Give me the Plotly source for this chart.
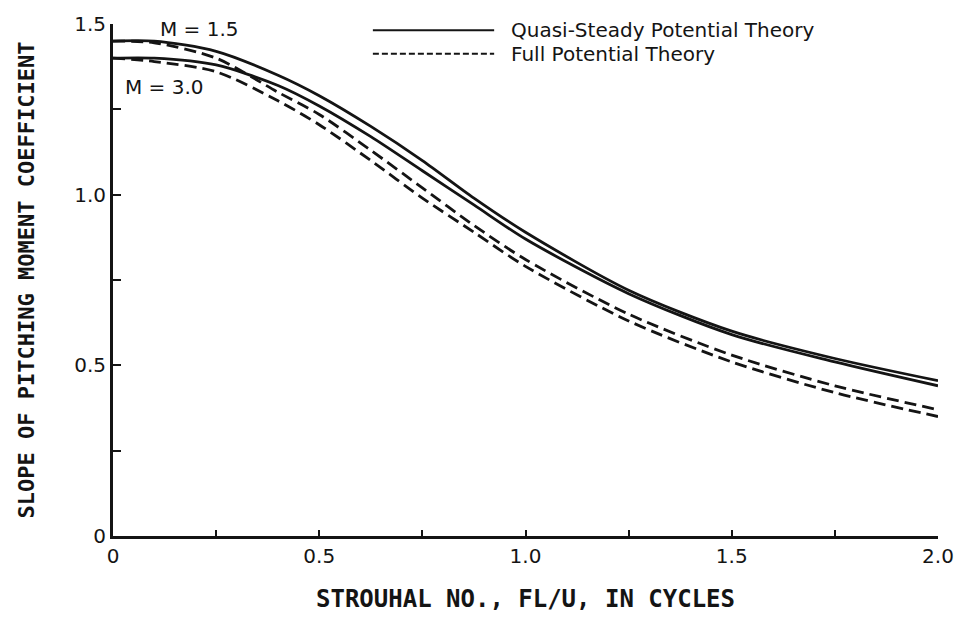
import plotly.graph_objects as go

# Strouhal number fL/U (cycles)
strouhal = [0.0, 0.1, 0.25, 0.4, 0.5, 0.625, 0.75, 0.875, 1.0, 1.25, 1.5, 1.75, 2.0]

# Slope of pitching moment coefficient
quasi_m15 = [1.45, 1.45, 1.42, 1.35, 1.29, 1.20, 1.10, 0.99, 0.89, 0.72, 0.60, 0.52, 0.455]
quasi_m30 = [1.40, 1.40, 1.38, 1.32, 1.26, 1.17, 1.07, 0.97, 0.87, 0.71, 0.59, 0.51, 0.44]
full_m15 = [1.45, 1.445, 1.40, 1.30, 1.235, 1.13, 1.02, 0.91, 0.81, 0.65, 0.53, 0.44, 0.37]
full_m30 = [1.40, 1.39, 1.36, 1.275, 1.205, 1.10, 0.99, 0.89, 0.79, 0.63, 0.51, 0.42, 0.35]

x_ticks = [0, 0.25, 0.5, 0.75, 1.0, 1.25, 1.5, 1.75, 2.0]
x_ticktext = ["0", "", "0.5", "", "1.0", "", "1.5", "", "2.0"]
y_ticks = [0, 0.25, 0.5, 0.75, 1.0, 1.25, 1.5]
y_ticktext = ["0", "", "0.5", "", "1.0", "", "1.5"]

legend_labels = ["Quasi-Steady Potential Theory", "Full Potential Theory"]
mach_labels = ["M = 1.5", "M = 3.0"]

INK = "#141414"
TICK_FONT = dict(family="DejaVu Sans", size=20, color=INK)
LABEL_FONT = dict(family="DejaVu Sans", size=20, color=INK)

fig = go.Figure()

for ys in (quasi_m15, quasi_m30):
    fig.add_trace(go.Scatter(x=strouhal, y=ys, mode="lines",
                             line=dict(color=INK, width=2.8, shape="spline", smoothing=0.8),
                             showlegend=False, hoverinfo="skip"))
for ys in (full_m15, full_m30):
    fig.add_trace(go.Scatter(x=strouhal, y=ys, mode="lines",
                             line=dict(color=INK, width=2.8, dash="12px,6px",
                                       shape="spline", smoothing=0.8),
                             showlegend=False, hoverinfo="skip"))

# Legend drawn as line samples with labels along the top of the plot
legend_rows = [(0.988, "solid"), (0.942, "6px,3px")]
for (yy, dash), label in zip(legend_rows, legend_labels):
    fig.add_shape(type="line", xref="paper", yref="paper",
                  x0=0.315, x1=0.462, y0=yy, y1=yy,
                  line=dict(color=INK, width=2, dash=dash))
    fig.add_annotation(xref="paper", yref="paper", x=0.48, y=yy,
                       text=label, showarrow=False, xanchor="left", yanchor="middle",
                       font=LABEL_FONT)

# Mach number labels
fig.add_annotation(x=0.11, xref="x", y=0.99, yref="paper", text=mach_labels[0],
                   showarrow=False, xanchor="left", yanchor="middle", font=LABEL_FONT)
fig.add_annotation(x=0.024, y=1.315, text=mach_labels[1], showarrow=False,
                   xanchor="left", yanchor="middle", font=LABEL_FONT)

fig.update_layout(
    width=966, height=634,
    margin=dict(l=113, r=22, t=16, b=98),
    paper_bgcolor="white", plot_bgcolor="white",
    showlegend=False,
)
fig.update_xaxes(
    range=[0, 2.0], tickvals=x_ticks, ticktext=x_ticktext,
    showgrid=False, zeroline=False, showline=True, linecolor=INK, linewidth=3,
    ticks="inside", ticklen=6, tickwidth=2, tickcolor=INK,
    tickfont=TICK_FONT,
    title=dict(text="<b>STROUHAL NO., FL/U, IN CYCLES</b>",
               font=dict(family="DejaVu Sans Mono", size=24, color=INK), standoff=24),
)
fig.update_yaxes(
    range=[0, 1.5], tickvals=y_ticks, ticktext=y_ticktext,
    showgrid=False, zeroline=False, showline=True, linecolor=INK, linewidth=3,
    ticks="inside", ticklen=8, tickwidth=2, tickcolor=INK,
    tickfont=TICK_FONT,
    title=dict(text="<b>SLOPE OF PITCHING MOMENT COEFFICIENT</b>",
               font=dict(family="DejaVu Sans Mono", size=22, color=INK), standoff=34),
)

fig.write_html("out.html")
